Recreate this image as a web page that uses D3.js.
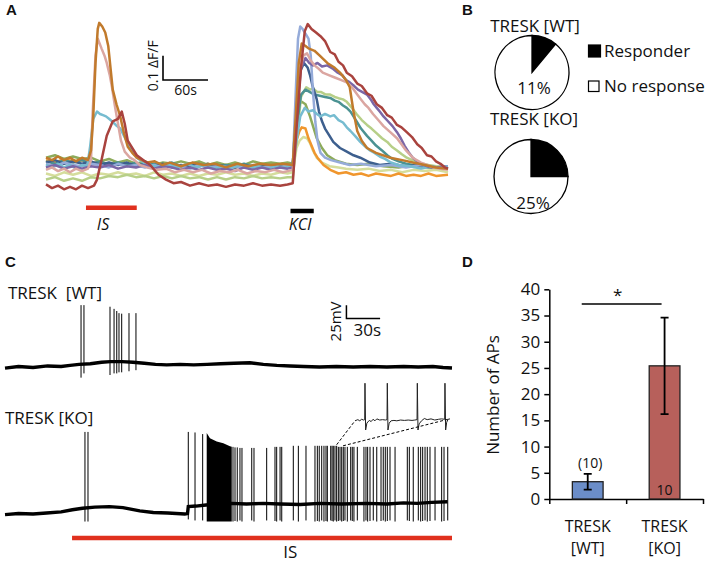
<!DOCTYPE html>
<html><head><meta charset="utf-8">
<script src="https://cdn.jsdelivr.net/npm/d3@7"></script>
<style>
body{margin:0;background:#fff}
svg{display:block}
text{font-family:"Open Sans",sans-serif;fill:#111}
.letter{font-family:"Liberation Sans",Arial,sans-serif;font-weight:bold;font-size:15px}
</style></head>
<body><svg width="708" height="563"></svg>
<script>
// ================= DATA =================
// Panel A: calcium traces, [time (s), ΔF/F]
const traceDarkRed = [[0,-0.08],[8,-0.095],[16,-0.085],[24,-0.1],[32,-0.09],[40,-0.1],[48,-0.085],[56,-0.095],[64,-0.085],[68,-0.06],[74,0.02],[81,0.12],[89,0.18],[96,0.19],[101,0.22],[105,0.17],[109,0.1],[115,0.07],[121,0.04],[130,0.02],[139,0.0],[150,-0.04],[160,-0.06],[170,-0.075],[180,-0.07],[192,-0.085],[204,-0.075],[216,-0.085],[228,-0.08],[240,-0.09],[252,-0.08],[264,-0.085],[276,-0.075],[288,-0.085],[300,-0.08],[312,-0.085],[322,-0.08],[329,-0.075],[334,0.15],[340,0.4],[345,0.55],[349,0.58],[354,0.56],[360,0.545],[366,0.53],[372,0.51],[379,0.465],[385,0.455],[390,0.425],[396,0.41],[401,0.38],[408,0.365],[415,0.335],[421,0.325],[428,0.295],[434,0.285],[441,0.25],[448,0.235],[455,0.205],[461,0.195],[468,0.165],[474,0.155],[481,0.135],[488,0.115],[495,0.085],[501,0.07],[508,0.04],[514,0.035],[520,0.015],[526,0.005],[532,-0.01],[536,-0.015]];
const traceDarkOrange = [[0,0.03],[8,0.02],[16,0.035],[24,0.02],[32,0.03],[40,0.015],[48,0.03],[56,0.02],[60,0.06],[63,0.2],[66,0.42],[69,0.56],[71,0.585],[75,0.57],[79,0.545],[83,0.49],[86,0.4],[89,0.31],[94,0.25],[99,0.2],[104,0.13],[109,0.075],[115,0.05],[121,0.03],[128,0.02],[135,0.01],[145,0.015],[155,0.0],[165,0.01],[180,-0.005],[195,0.01],[210,0.0],[225,0.005],[240,-0.01],[255,0.005],[270,-0.005],[285,0.005],[300,0.0],[315,0.005],[329,0.0],[333,0.2],[337,0.42],[341,0.5],[346,0.49],[350,0.48],[358,0.47],[365,0.45],[375,0.42],[385,0.4],[392,0.38],[400,0.35],[405,0.32],[410,0.22],[415,0.14],[421,0.1],[428,0.07],[440,0.05],[459,0.03],[475,0.02],[489,0.01],[505,0.0],[520,-0.01],[536,-0.015]];
const tracePink = [[0,-0.02],[8,-0.01],[16,-0.025],[24,-0.015],[32,-0.03],[40,-0.015],[48,-0.025],[56,-0.015],[60,0.02],[62,0.2],[66,0.45],[69,0.52],[74,0.48],[78,0.45],[81,0.42],[85,0.37],[88,0.32],[92,0.24],[96,0.17],[100,0.1],[105,0.055],[112,0.03],[118,0.02],[125,0.0],[135,-0.01],[148,-0.02],[160,-0.015],[172,-0.03],[184,-0.02],[196,-0.03],[208,-0.02],[220,-0.035],[232,-0.025],[244,-0.03],[256,-0.02],[268,-0.035],[280,-0.025],[292,-0.03],[304,-0.02],[316,-0.03],[329,-0.02],[333,0.15],[338,0.38],[343,0.45],[348,0.46],[353,0.43],[358,0.41],[364,0.395],[369,0.38],[377,0.37],[385,0.36],[393,0.35],[401,0.34],[408,0.32],[415,0.29],[420,0.27],[425,0.25],[430,0.235],[436,0.21],[443,0.185],[450,0.16],[459,0.135],[468,0.11],[474,0.085],[480,0.06],[489,0.03],[500,0.01],[508,0.0],[516,-0.01],[526,-0.015],[536,-0.02]];
const traceSkyBlue = [[0,0.0],[8,-0.01],[16,0.005],[24,-0.01],[32,0.0],[40,-0.015],[48,0.0],[55,-0.005],[59,0.08],[63,0.19],[68,0.22],[72,0.21],[76,0.205],[80,0.2],[84,0.19],[88,0.18],[93,0.165],[99,0.15],[104,0.12],[108,0.095],[114,0.06],[121,0.03],[130,0.01],[140,0.0],[152,-0.01],[164,0.0],[176,-0.01],[188,0.005],[200,-0.01],[212,0.0],[224,-0.015],[236,-0.005],[248,-0.01],[260,0.0],[272,-0.01],[284,-0.005],[296,-0.015],[308,-0.005],[320,-0.01],[329,-0.005],[334,0.1],[339,0.2],[345,0.235],[350,0.22],[356,0.225],[361,0.21],[366,0.2],[372,0.21],[379,0.2],[384,0.205],[390,0.185],[396,0.175],[401,0.155],[406,0.14],[412,0.12],[419,0.095],[426,0.075],[432,0.06],[438,0.05],[445,0.035],[452,0.025],[459,0.012],[470,0.0],[485,-0.005],[500,-0.015],[515,-0.005],[526,-0.015],[536,-0.01]];
const tracePurple = [[0,-0.01],[12,0.0],[24,-0.015],[36,-0.005],[48,-0.015],[60,-0.005],[72,-0.01],[84,0.0],[96,-0.015],[108,-0.005],[120,-0.01],[132,0.0],[144,-0.015],[156,-0.005],[168,-0.01],[180,-0.02],[192,-0.01],[204,-0.02],[216,-0.01],[228,-0.02],[240,-0.015],[252,-0.025],[264,-0.01],[276,-0.02],[288,-0.01],[300,-0.02],[312,-0.01],[322,-0.015],[329,-0.01],[334,0.2],[340,0.4],[346,0.44],[351,0.42],[356,0.41],[362,0.42],[368,0.405],[375,0.41],[383,0.395],[389,0.38],[395,0.37],[400,0.35],[405,0.34],[411,0.325],[416,0.31],[422,0.3],[428,0.29],[433,0.27],[437,0.25],[441,0.235],[445,0.22],[450,0.2],[456,0.18],[462,0.16],[468,0.135],[473,0.11],[478,0.08],[484,0.05],[489,0.03],[495,0.015],[500,0.005],[508,-0.005],[516,-0.01],[526,-0.01],[536,-0.015]];
const tracePeriwinkle = [[0,0.005],[12,-0.005],[24,0.01],[36,0.0],[48,-0.005],[60,0.005],[72,0.0],[84,-0.01],[96,0.005],[108,-0.005],[120,0.0],[132,-0.01],[144,0.0],[156,-0.01],[168,0.0],[180,-0.005],[192,-0.015],[204,0.0],[216,-0.01],[228,-0.005],[240,-0.015],[252,-0.005],[264,-0.01],[276,0.0],[288,-0.01],[300,-0.005],[312,-0.01],[322,0.0],[329,-0.005],[333,0.3],[336,0.52],[339,0.57],[342,0.56],[346,0.54],[350,0.52],[353,0.45],[356,0.3],[359,0.18],[362,0.1],[366,0.05],[372,0.03],[380,0.02],[392,0.01],[405,0.0],[420,0.005],[440,-0.005],[460,0.0],[480,-0.01],[500,0.0],[520,-0.01],[536,-0.005]];
const traceNavy = [[0,0.01],[12,0.02],[24,0.005],[36,0.015],[48,0.005],[60,0.015],[72,0.0],[84,0.01],[96,0.0],[108,0.01],[120,-0.005],[132,0.005],[144,-0.005],[156,0.005],[168,-0.01],[180,0.0],[192,-0.005],[204,0.005],[216,-0.01],[228,0.0],[240,-0.005],[252,-0.01],[264,0.0],[276,-0.01],[288,-0.005],[300,-0.01],[312,0.0],[322,-0.005],[329,0.0],[333,0.2],[338,0.38],[344,0.42],[349,0.4],[352,0.37],[355,0.33],[358,0.3],[361,0.27],[364,0.22],[368,0.18],[372,0.15],[376,0.13],[383,0.095],[392,0.07],[401,0.055],[410,0.04],[419,0.03],[432,0.01],[445,0.0],[460,0.005],[480,-0.005],[500,0.0],[520,-0.01],[536,-0.005]];
const traceTeal = [[0,0.015],[12,0.005],[24,0.02],[36,0.01],[48,0.02],[60,0.005],[72,0.015],[84,0.0],[96,0.01],[108,0.0],[120,0.01],[132,-0.005],[144,0.005],[156,0.0],[168,0.01],[180,-0.005],[192,0.005],[204,-0.005],[216,0.005],[228,-0.01],[240,0.0],[252,-0.005],[264,0.005],[276,-0.005],[288,0.0],[300,-0.01],[312,0.0],[322,-0.005],[329,0.0],[334,0.15],[340,0.29],[346,0.31],[352,0.3],[358,0.29],[365,0.285],[372,0.28],[379,0.276],[385,0.265],[390,0.26],[396,0.245],[401,0.235],[406,0.22],[410,0.2],[415,0.175],[420,0.15],[428,0.12],[434,0.1],[440,0.08],[448,0.06],[455,0.04],[462,0.025],[470,0.015],[480,0.005],[489,0.0],[500,-0.005],[515,-0.01],[536,-0.01]];
const traceLightGreen = [[0,-0.06],[12,-0.05],[24,-0.065],[36,-0.055],[48,-0.065],[60,-0.05],[72,-0.055],[84,-0.045],[96,-0.05],[108,-0.04],[120,-0.05],[132,-0.045],[144,-0.055],[156,-0.045],[168,-0.055],[180,-0.045],[192,-0.055],[204,-0.05],[216,-0.06],[228,-0.05],[240,-0.06],[252,-0.05],[264,-0.055],[276,-0.045],[288,-0.055],[300,-0.05],[312,-0.055],[322,-0.05],[329,-0.05],[334,0.1],[340,0.28],[347,0.32],[352,0.31],[356,0.315],[362,0.3],[367,0.3],[373,0.29],[379,0.29],[385,0.28],[390,0.275],[396,0.27],[401,0.26],[408,0.235],[414,0.21],[421,0.185],[428,0.165],[434,0.15],[441,0.13],[448,0.11],[455,0.095],[461,0.075],[468,0.06],[474,0.045],[481,0.03],[488,0.02],[495,0.01],[502,0.005],[510,0.0],[520,-0.005],[532,-0.01],[536,-0.01]];
const traceOlive = [[0,0.03],[12,0.04],[24,0.025],[36,0.035],[48,0.025],[60,0.03],[72,0.015],[84,0.025],[96,0.01],[108,0.02],[120,0.005],[132,0.015],[144,0.0],[156,0.01],[168,0.005],[180,0.015],[192,0.005],[204,0.015],[216,0.0],[228,0.01],[240,0.0],[252,0.01],[264,0.0],[276,0.015],[288,0.005],[300,0.01],[312,0.005],[322,0.01],[329,0.005],[333,0.15],[337,0.25],[341,0.26],[346,0.25],[352,0.2],[356,0.16],[361,0.11],[368,0.07],[375,0.04],[385,0.02],[400,0.005],[415,0.0],[430,0.005],[450,-0.005],[470,-0.01],[490,0.0],[510,-0.01],[536,-0.005]];
const traceBrightOrange = [[0,0.02],[12,0.01],[24,0.025],[36,0.015],[48,0.02],[60,0.005],[72,0.015],[84,0.0],[96,0.01],[108,0.0],[120,0.01],[132,-0.005],[144,0.005],[156,-0.005],[168,0.005],[180,-0.01],[192,0.0],[204,-0.005],[216,0.005],[228,-0.005],[240,0.0],[252,-0.01],[264,0.0],[276,-0.005],[288,0.005],[300,-0.005],[312,0.0],[322,-0.005],[329,0.005],[334,0.1],[338,0.14],[341,0.155],[346,0.15],[350,0.11],[354,0.08],[358,0.05],[362,0.03],[370,0.0],[379,-0.02],[390,-0.035],[400,-0.03],[410,-0.04],[420,-0.035],[430,-0.045],[440,-0.035],[450,-0.04],[460,-0.045],[470,-0.035],[480,-0.045],[490,-0.04],[500,-0.045],[510,-0.035],[520,-0.045],[536,-0.04]];
const tracePale = [[0,-0.035],[12,-0.045],[24,-0.03],[36,-0.04],[48,-0.03],[60,-0.045],[72,-0.035],[84,-0.04],[96,-0.03],[108,-0.04],[120,-0.035],[132,-0.045],[144,-0.03],[156,-0.04],[168,-0.035],[180,-0.045],[192,-0.035],[204,-0.045],[216,-0.035],[228,-0.04],[240,-0.03],[252,-0.04],[264,-0.035],[276,-0.045],[288,-0.035],[300,-0.04],[312,-0.03],[322,-0.035],[329,-0.03],[334,0.07],[338,0.1],[343,0.115],[348,0.11],[352,0.09],[356,0.06],[361,0.03],[368,0.01],[378,-0.005],[390,-0.01],[400,-0.015],[415,-0.02],[430,-0.015],[445,-0.025],[460,-0.02],[475,-0.03],[490,-0.02],[505,-0.025],[520,-0.02],[536,-0.03]];
const stimuliA = [{label:"IS", start:53.3, end:121, labelAt:76}, {label:"KCl", start:326, end:357, labelAt:338.7}];
const scaleBarA = {t:156, v:0.35, dt:60, dv:0.1};

// Panel B
const pieGroups = ["TRESK [WT]", "TRESK [KO]"];
const responderPct = [11, 25];
const legendB = ["Responder", "No response"];

// Panel C: membrane potential, [time (s), mV]
const wtBaseline = [[0,-62],[12,-59],[25,-61],[38,-58],[50,-59],[58,-57],[66,-55],[76,-54],[86,-51],[94,-50],[104,-50],[114,-51],[124,-53],[134,-55],[144,-56],[156,-55],[168,-56],[180,-55],[192,-54],[204,-53],[218,-52],[230,-55],[242,-57],[254,-58],[266,-59],[280,-60],[295,-59],[310,-60],[325,-59],[340,-60],[355,-59],[368,-60],[381,-59],[390,-61],[398,-62]];
const wtSpikes = [[67.7,56,-80],[70.3,56,-72],[93.5,53,-75],[97.1,49,-72],[99.5,45,-72],[101.5,41,-70],[103.9,40,-70],[110.4,41,-68],[116.6,41,-66]];
const koBaseline = [[0,-63],[12,-61],[25,-62],[37,-60],[50,-58],[60,-54],[69,-51],[80,-49],[93,-48],[105,-50],[120,-56],[132,-59],[145,-60],[160,-62],[162.5,-61],[163.2,-48],[170,-47],[179,-45],[202,-42],[215,-43],[230,-42],[245,-43],[263,-44],[280,-42],[300,-43],[322,-42],[340,-43],[355,-41],[367,-42],[380,-40],[394,-39]];
const koSpikes = [[71.2,92,-76],[73.9,92,-76],[163.2,92,-72],[169.2,91,-74],[176,88,-74],
 [203.0,64,-76],[204.8,63,-75],[206.8,63,-76],[209.2,62,-74],[211.0,62,-76],[219.7,62,-74],[221.7,62,-76],[233.0,62,-74],[240.4,64,-75],[241.9,64,-76],[244.9,64,-74],[246.4,64,-76],[256.7,66,-74],[261.2,66,-76],[268.0,66,-74],[276.0,66,-76],[278.1,66,-75],[279.8,66,-76],[282.0,66,-74],[284.0,66,-76],[285.8,66,-75],[287.0,66,-76],[290.0,66,-74],[291.2,66,-75],[292.3,66,-76],[293.8,66,-74],[295.3,66,-76],[296.8,64,-75],[298.3,64,-74],[299.8,64,-76],[301.2,64,-75],[302.7,64,-74],[304.8,64,-76],[307.8,64,-74],[309.2,64,-75],[310.7,64,-76],[313.7,64,-74],[319.6,64,-76],[321.4,64,-74],[322.9,64,-76],[325.0,64,-75],[327.9,64,-74],[331.0,64,-76],[334.8,64,-75],[336.8,64,-74],[338.6,64,-76],[340.4,64,-75],[342.8,64,-74],[347.3,64,-76],[358.2,64,-74],[360.0,64,-75],[363.5,64,-76],[368.0,64,-74],[370.1,64,-76],[371.9,64,-75],[374.0,64,-74],[376.0,64,-76],[378.4,64,-75],[382.9,64,-74],[388.8,64,-76],[390.9,64,-75],[394.2,64,-74]];
const koBurstTop = [[179.6,90],[182.5,80],[188.5,74],[194.4,71],[200.3,65],[201.9,64]];
const koBurstTrough = -76;
const insetTrace = [[0,-36],[3,-33],[5,-36],[7,-32],[9,-34],[10.2,-33],[10.5,62],[11.2,-60],[12.5,-42],[15,-35],[17,-38],[19,-32],[21,-36],[23,-31],[26,-34],[29,-33],[32,-34],[33.7,-33],[34,62],[34.7,-60],[36,-42],[38,-36],[41,-35],[44,-36],[48,-34],[52,-35],[56,-34],[60,-35],[63,-34],[65.3,-33],[65.6,62],[66.3,-60],[67.5,-44],[70,-36],[73,-30],[76,-33],[80,-31],[84,-34],[88,-32],[91,-31],[94.4,-32],[94.7,62],[95.4,-60],[96.5,-40],[98,-32],[100,-31]];
const insetSource = [295.3, 301];
const stimulusC = {label:"IS", start:59.7, end:398, labelAt:254};
const scaleBarC = {t:304, mV:31, dt:30, dmV:25};

// Panel D
const groupsD = ["WT", "KO"];
const catLabelsD = [["TRESK","[WT]"],["TRESK","[KO]"]];
const meansD = [3.3, 25.4];
const semD = [1.5, 9.2];
const nD = ["(10)", "10"];
const yTicksD = [0,5,10,15,20,25,30,35,40];
const sigD = {y:37.2, label:"*"};

// ================= DRAW =================
const svg = d3.select("svg");

// ---- Panel A ----
svg.append("text").attr("class","letter").attr("x",6).attr("y",15).text("A");
const xA = d3.scaleLinear().domain([0,536]).range([46,448]);
const yA = d3.scaleLinear().domain([0,0.1]).range([165,140.7]);
const lineA = d3.line().x(d=>xA(d[0])).y(d=>yA(d[1]));
const tracesA = [
  [tracePale,"#d5dd9c"],[traceBrightOrange,"#f0962d"],[traceOlive,"#8dab5b"],[traceLightGreen,"#b7cf88"],
  [traceTeal,"#4b9292"],[traceNavy,"#3d5f8e"],[tracePeriwinkle,"#95abd9"],[traceSkyBlue,"#76bcd0"],
  [tracePurple,"#7b66a6"],[tracePink,"#dba6a1"],[traceDarkOrange,"#c17a2c"],[traceDarkRed,"#a9433e"]
];
const gA = svg.append("g");
tracesA.forEach(([vals,col]) => {
  gA.append("path").attr("d", lineA(vals)).attr("fill","none").attr("stroke",col)
    .attr("stroke-width",2.5).attr("stroke-linejoin","round");
});
gA.append("path").attr("fill","none").attr("stroke","#000").attr("stroke-width",1.6)
  .attr("d",`M${xA(scaleBarA.t)},${yA(scaleBarA.v+scaleBarA.dv)}V${yA(scaleBarA.v)}H${xA(scaleBarA.t+scaleBarA.dt)}`);
gA.append("text").attr("transform",`translate(${xA(scaleBarA.t)-5},${yA(scaleBarA.v+scaleBarA.dv/2)-2}) rotate(-90)`)
  .attr("text-anchor","middle").attr("font-size",14).text("0.1 ΔF/F");
gA.append("text").attr("x",xA(scaleBarA.t+scaleBarA.dt/2)).attr("y",yA(scaleBarA.v)+15)
  .attr("text-anchor","middle").attr("font-size",14).text("60s");
const stimYA = [207.8, 211];
const stimColA = ["#e0301e", "#000"];
stimuliA.forEach((s,i) => {
  gA.append("line").attr("x1",xA(s.start)).attr("x2",xA(s.end)).attr("y1",stimYA[i]).attr("y2",stimYA[i])
    .attr("stroke",stimColA[i]).attr("stroke-width",4.5);
  gA.append("text").attr("x",xA(s.labelAt)).attr("y",230).attr("text-anchor","middle")
    .attr("font-size",16).attr("font-style","italic").text(s.label);
});

// ---- Panel B ----
svg.append("text").attr("class","letter").attr("x",462).attr("y",15).text("B");
const pieCenters = [[532,72.5],[531,176.5]];
const titleY = [31.5, 125];
const pctY = [93.5, 208.5];
const pieGen = d3.pie().sort(null).value(d=>d);
const arcB = d3.arc().innerRadius(0).outerRadius(37);
pieGroups.forEach((name,i) => {
  const g = svg.append("g").attr("transform",`translate(${pieCenters[i][0]},${pieCenters[i][1]})`);
  const arcs = pieGen([responderPct[i], 100-responderPct[i]]);
  g.selectAll("path").data(arcs).join("path").attr("d",arcB)
    .attr("fill",(d,j)=> j===0 ? "#000" : "#fff").attr("stroke","#000").attr("stroke-width",1.3);
  svg.append("text").attr("x",pieCenters[i][0]+3).attr("y",titleY[i]).attr("text-anchor","middle")
    .attr("font-size",17).text(name);
  svg.append("text").attr("x",pieCenters[i][0]+2).attr("y",pctY[i]).attr("text-anchor","middle")
    .attr("font-size",17).text(responderPct[i]+"%");
});
legendB.forEach((lab,i) => {
  const y = i===0 ? 45 : 81;
  svg.append("rect").attr("x",588.5).attr("y",y).attr("width",i===0?12:10.5).attr("height",i===0?12:10.5)
    .attr("fill", i===0 ? "#000" : "#fff").attr("stroke","#000").attr("stroke-width",1.2);
  svg.append("text").attr("x",604).attr("y", i===0 ? 56.5 : 92).attr("font-size",17).text(lab);
});

// ---- Panel C ----
svg.append("text").attr("class","letter").attr("x",5).attr("y",267).text("C");
const xC = d3.scaleLinear().domain([0,398]).range([5,452]);
const yWT = d3.scaleLinear().domain([-60,0]).range([367,335]);
const yKO = d3.scaleLinear().domain([-60,0]).range([513,481]);
const gC = svg.append("g");
gC.append("text").attr("x",8).attr("y",299).attr("font-size",17).style("white-space","pre").text("TRESK  [WT]");
gC.append("text").attr("x",5).attr("y",423.5).attr("font-size",17).text("TRESK [KO]");
gC.append("path").attr("d", d3.line().x(d=>xC(d[0])).y(d=>yWT(d[1]))(wtBaseline))
  .attr("fill","none").attr("stroke","#000").attr("stroke-width",3.4);
gC.selectAll(".wts").data(wtSpikes).join("line").attr("x1",d=>xC(d[0])).attr("x2",d=>xC(d[0]))
  .attr("y1",d=>yWT(d[1])).attr("y2",d=>yWT(d[2])).attr("stroke","#000").attr("stroke-width",1);
gC.append("path").attr("d", d3.line().x(d=>xC(d[0])).y(d=>yKO(d[1]))(koBaseline))
  .attr("fill","none").attr("stroke","#000").attr("stroke-width",3.4);
gC.append("path").attr("d", d3.area().x(d=>xC(d[0])).y0(yKO(koBurstTrough)).y1(d=>yKO(d[1]))(koBurstTop))
  .attr("fill","#000");
gC.selectAll(".kos").data(koSpikes).join("line").attr("x1",d=>xC(d[0])).attr("x2",d=>xC(d[0]))
  .attr("y1",d=>yKO(d[1])).attr("y2",d=>yKO(d[2])).attr("stroke","#000").attr("stroke-width",1);
const insetX = d3.scaleLinear().domain([0,100]).range([355,450]);
const insetY = d3.scaleLinear().domain([-60,60]).range([430,384]);
gC.append("path").attr("d", d3.line().x(d=>insetX(d[0])).y(d=>insetY(d[1]))(insetTrace))
  .attr("fill","none").attr("stroke","#222").attr("stroke-width",1);
const first = insetTrace[0], last = insetTrace[insetTrace.length-2];
gC.append("line").attr("x1",xC(insetSource[0])).attr("y1",yKO(68)).attr("x2",insetX(first[0])).attr("y2",insetY(first[1]))
  .attr("stroke","#000").attr("stroke-width",1).attr("stroke-dasharray","3,2");
gC.append("line").attr("x1",xC(insetSource[1])).attr("y1",yKO(66)).attr("x2",insetX(last[0])).attr("y2",insetY(last[1]))
  .attr("stroke","#000").attr("stroke-width",1).attr("stroke-dasharray","3,2");
gC.append("path").attr("fill","none").attr("stroke","#000").attr("stroke-width",1.5)
  .attr("d",`M${xC(scaleBarC.t)},${yWT(scaleBarC.mV+scaleBarC.dmV)}V${yWT(scaleBarC.mV)}H${xC(scaleBarC.t+scaleBarC.dt)}`);
gC.append("text").attr("transform",`translate(${xC(scaleBarC.t)-5},${yWT(scaleBarC.mV)+3}) rotate(-90)`)
  .attr("text-anchor","middle").attr("font-size",15).text("25mV");
gC.append("text").attr("x",xC(scaleBarC.t+scaleBarC.dt/2)+4).attr("y",yWT(scaleBarC.mV)+18)
  .attr("text-anchor","middle").attr("font-size",17).text("30s");
gC.append("line").attr("x1",xC(stimulusC.start)).attr("x2",xC(stimulusC.end)).attr("y1",538).attr("y2",538)
  .attr("stroke","#e0301e").attr("stroke-width",4.5);
gC.append("text").attr("x",xC(stimulusC.labelAt)).attr("y",557.5).attr("text-anchor","middle")
  .attr("font-size",17).text(stimulusC.label);

// ---- Panel D ----
svg.append("text").attr("class","letter").attr("x",462).attr("y",267).text("D");
const gD = svg.append("g");
const xD = d3.scaleBand().domain(groupsD).range([549.3,703]).paddingInner(0.6).paddingOuter(0.3);
const yD = d3.scaleLinear().domain([0,40]).range([499,289.3]);
const yAx = gD.append("g").attr("transform","translate(549.3,0)")
  .call(d3.axisLeft(yD).tickValues(yTicksD).tickSize(5).tickSizeOuter(0).tickPadding(4));
yAx.selectAll("text").attr("font-size",17).attr("font-family","'Open Sans',sans-serif").attr("fill","#111");
yAx.selectAll("path,line").attr("stroke","#000").attr("stroke-width",1.5);
const xEdges = d3.scaleLinear().domain([0,2]).range([549.3,703]);
const xAx = gD.append("g").attr("transform",`translate(0,${yD(0)})`)
  .call(d3.axisBottom(xEdges).tickValues([0,1,2]).tickFormat("").tickSize(5).tickSizeOuter(0));
xAx.selectAll("path,line").attr("stroke","#000").attr("stroke-width",1.5);
const barCol = ["#6b8dc8","#b7605b"];
groupsD.forEach((g,i) => {
  const x = xD(g), bw = xD.bandwidth(), cx = x + bw/2;
  gD.append("rect").attr("x",x).attr("y",yD(meansD[i])).attr("width",bw).attr("height",yD(0)-yD(meansD[i]))
    .attr("fill",barCol[i]).attr("stroke","#222").attr("stroke-width",1.3);
  const yt = yD(meansD[i]+semD[i]), yb = yD(meansD[i]-semD[i]);
  gD.append("path").attr("fill","none").attr("stroke","#000").attr("stroke-width",1.8)
    .attr("d",`M${cx},${yt}V${yb}M${cx-4},${yt}H${cx+4}M${cx-4},${yb}H${cx+4}`);
  gD.append("text").attr("x",cx).attr("y",532).attr("text-anchor","middle").attr("font-size",16).text(catLabelsD[i][0]);
  gD.append("text").attr("x",cx).attr("y",554).attr("text-anchor","middle").attr("font-size",16).text(catLabelsD[i][1]);
  gD.append("text").attr("x",cx+ (i===0?2.5:0)).attr("y", i===0 ? yt-6 : yD(0)-4)
    .attr("text-anchor","middle").attr("font-size",14).text(nD[i]);
});
gD.append("text").attr("transform","translate(499,395) rotate(-90)").attr("text-anchor","middle")
  .attr("font-size",17).text("Number of APs");
const sx1 = xD("WT")+xD.bandwidth()/2-6, sx2 = xD("KO")+xD.bandwidth()/2-3;
gD.append("line").attr("x1",sx1).attr("x2",sx2).attr("y1",yD(sigD.y)).attr("y2",yD(sigD.y))
  .attr("stroke","#000").attr("stroke-width",1.6);
gD.append("text").attr("x",(sx1+sx2)/2-4).attr("y",yD(sigD.y)-3).attr("text-anchor","middle")
  .attr("font-size",17).text(sigD.label);
</script>
</body></html>
